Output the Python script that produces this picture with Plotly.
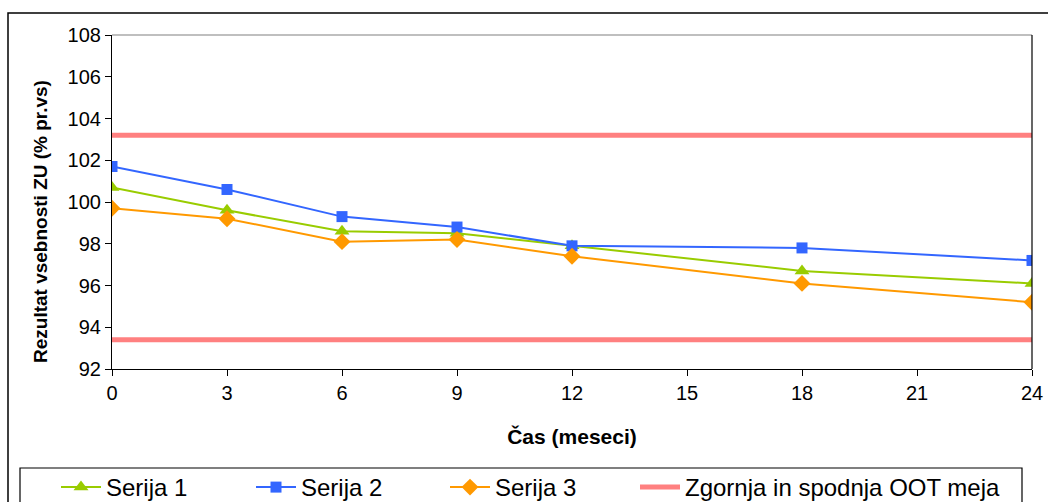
import plotly.graph_objects as go

# Data
months = [0, 3, 6, 9, 12, 18, 24]
serija1 = [100.7, 99.6, 98.6, 98.5, 97.9, 96.7, 96.1]
serija2 = [101.7, 100.6, 99.3, 98.8, 97.9, 97.8, 97.2]
serija3 = [99.7, 99.2, 98.1, 98.2, 97.4, 96.1, 95.2]
oot_x = [0, 24, None, 0, 24]
oot_y = [103.2, 103.2, None, 93.4, 93.4]

x_ticks = [0, 3, 6, 9, 12, 15, 18, 21, 24]
y_ticks = [92, 94, 96, 98, 100, 102, 104, 106, 108]

FONT = "Liberation Sans, Arial, sans-serif"

fig = go.Figure()
fig.add_trace(go.Scatter(x=months, y=serija1, name="Serija 1", mode="lines+markers",
                         line=dict(color="#99CC00", width=2),
                         marker=dict(symbol="triangle-up", size=13, color="#99CC00"),
                         legendwidth=140))
fig.add_trace(go.Scatter(x=months, y=serija2, name="Serija 2", mode="lines+markers",
                         line=dict(color="#3366FF", width=2),
                         marker=dict(symbol="square", size=11, color="#3366FF"),
                         legendwidth=139))
fig.add_trace(go.Scatter(x=months, y=serija3, name="Serija 3", mode="lines+markers",
                         line=dict(color="#FF9900", width=2),
                         marker=dict(symbol="diamond", size=13, color="#FF9900"),
                         legendwidth=135))
fig.add_trace(go.Scatter(x=oot_x, y=oot_y, name="Zgornja in spodnja OOT meja", mode="lines",
                         line=dict(color="#FF8080", width=5)))

L, R, T, B = 112, 16, 35, 133
W, H = 1048, 502
pw = W - L - R
ph = H - T - B

def px_x(p):
    return (p - L) / pw

def px_y(p):
    return (H - B - p) / ph

shapes = [
    # outer chart border
    dict(type="rect", xref="paper", yref="paper", x0=px_x(8), x1=px_x(1100),
         y0=px_y(560), y1=px_y(13), line=dict(color="black", width=1.5), layer="below"),
    # legend box
    dict(type="rect", xref="paper", yref="paper", x0=px_x(20), x1=px_x(1022),
         y0=px_y(540), y1=px_y(468), line=dict(color="black", width=1.2), layer="below"),
    # top border of plot area (gray)
    dict(type="line", xref="paper", yref="paper", x0=0, x1=1, y0=1, y1=1,
         line=dict(color="#808080", width=1.2)),
    # right border of plot area
    dict(type="line", xref="paper", yref="paper", x0=1, x1=1, y0=0, y1=1,
         line=dict(color="black", width=1.2)),
]

annotations = [
    dict(text="<b>Rezultat vsebnosti ZU (% pr.vs)</b>", xref="paper", yref="paper",
         x=px_x(40), y=px_y(222), xanchor="center", yanchor="middle", textangle=-90,
         showarrow=False, font=dict(size=19, family=FONT, color="black")),
]

fig.update_layout(
    width=W, height=H,
    margin=dict(l=L, r=R, t=T, b=B, autoexpand=False),
    paper_bgcolor="white", plot_bgcolor="white",
    font=dict(family=FONT, color="black", size=20),
    showlegend=True,
    legend=dict(orientation="h", x=px_x(56), xanchor="left", y=px_y(465), yanchor="top",
                font=dict(size=24, family=FONT), borderwidth=0, bgcolor="rgba(0,0,0,0)",
                itemwidth=40, tracegroupgap=0),
    shapes=shapes,
    annotations=annotations,
    xaxis=dict(range=[0, 24], tickvals=x_ticks, ticktext=[str(v) for v in x_ticks],
               showgrid=False, zeroline=False, showline=True, linecolor="black", linewidth=1.2,
               ticks="outside", ticklen=6, tickcolor="black", tickfont=dict(size=20),
               title=dict(text="<b>Čas (meseci)</b>", font=dict(size=21), standoff=26)),
    yaxis=dict(range=[92, 108], tickvals=y_ticks, ticktext=[str(v) for v in y_ticks],
               showgrid=False, zeroline=False, showline=True, linecolor="black", linewidth=1.2,
               ticks="outside", ticklen=6, tickcolor="black", tickfont=dict(size=20)),
)

fig.write_html("out.html")
